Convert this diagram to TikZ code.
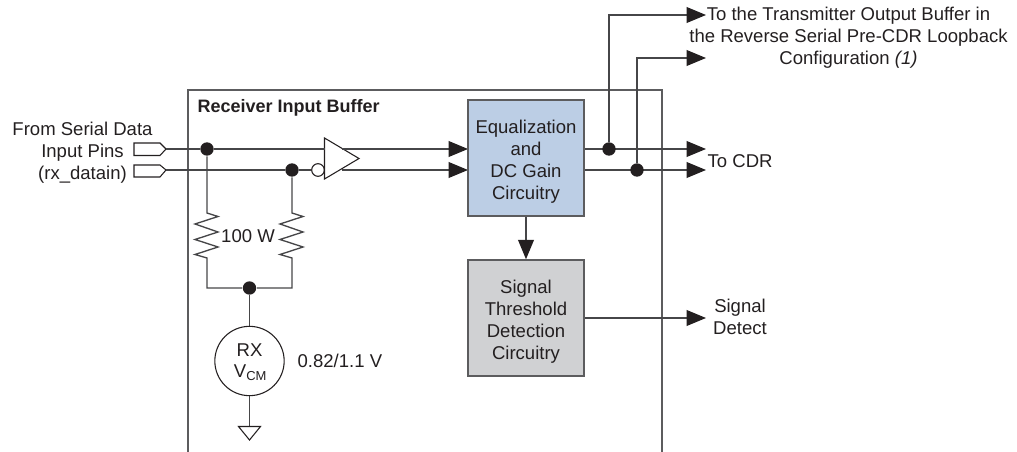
\documentclass[tikz,border=0pt]{standalone}
\usepackage{fontspec}
\setmainfont{Liberation Sans}
\usetikzlibrary{arrows.meta,backgrounds}
\definecolor{inkdark}{HTML}{231F20}
\definecolor{wiregray}{HTML}{464648}
\definecolor{framegray}{HTML}{5C5C5E}
\definecolor{eqblue}{HTML}{BCCEE5}
\definecolor{detgray}{HTML}{D0D1D3}
\newcommand{\blocktop}{\rule{0pt}{15.5pt}}

\begin{document}
\begin{tikzpicture}[
  x=0.75pt,y=-0.75pt,
  line width=1pt,
  wire/.style={draw=wiregray,line width=1pt},
  sig/.style={wire,-{Triangle[length=14.5pt,width=11.8pt,color=inkdark]}},
  dot/.style={circle,fill=inkdark,inner sep=0pt,minimum size=10pt},
  lbl/.style={text=inkdark,inner sep=0pt,align=center,font=\fontsize{13.9}{16.6}\selectfont},
  block/.style={lbl,draw=framegray,line width=1.1pt,minimum width=87pt,minimum height=87pt}
]
  \useasboundingbox (0,0) rectangle (1017,452);
  \node[lbl,anchor=west,font=\fontsize{13.5}{16.6}\selectfont\bfseries] (title) at (197,107.5) {Receiver Input Buffer};

  \node[block,fill=eqblue] (eq) at (526,158) {\blocktop Equalization\\and\\DC Gain\\Circuitry};
  \node[block,fill=detgray] (det) at (526,318) {\blocktop Signal\\Threshold\\Detection\\Circuitry};
  \node[circle,draw=inkdark,line width=0.8pt,minimum size=52pt,inner sep=0pt] (vcm) at (249.5,361) {};
  \node[lbl] (rx) at (249.5,350) {RX};
  \node[lbl] (vcmtxt) at (250.5,372.5) {V\textsubscript{CM}};
  \node[lbl,anchor=west] (volt) at (297,361) {0.82/1.1 V};
  \node[lbl] (from) at (82.5,152.5) {From Serial Data\\Input Pins\\(rx\_datain)};
  \node[lbl] (ohm) at (248,236) {100 W};
  \node[lbl] (xmit) at (848.5,38) {To the Transmitter Output Buffer in\\the Reverse Serial Pre-CDR Loopback\\Configuration \textit{(1)}};
  \node[lbl,anchor=west] (cdr) at (707,161) {To CDR};
  \node[lbl] (sdet) at (740,317) {Signal\\Detect};

  \node[dot] (d1) at (207,149) {};
  \node[dot] (d2) at (292,170) {};
  \node[dot] (d3) at (249.5,288) {};
  \node[dot] (d4) at (609,149) {};
  \node[dot] (d5) at (637,170) {};
  \node[circle,draw=inkdark,line width=0.8pt,minimum size=9.5pt,inner sep=0pt] (inv) at (318,170) {};

  \coordinate (pin1) at (166,149);
  \coordinate (pin2) at (166,170);
  \coordinate (bufa) at (324.5,149);
  \coordinate (bufb) at (342,149);
  \coordinate (bufc) at (342,170);
  \coordinate (eqa) at (468,149);
  \coordinate (eqb) at (468,170);
  \coordinate (oa) at (584,149);
  \coordinate (ob) at (584,170);
  \coordinate (cdra) at (706,149);
  \coordinate (cdrb) at (706,170);
  \coordinate (xa) at (706,15);
  \coordinate (xb) at (706,58);
  \coordinate (sout) at (706,318);
  \coordinate (r1a) at (207,213);
  \coordinate (r1b) at (207,258);
  \coordinate (r2a) at (292,213);
  \coordinate (r2b) at (292,258);
  \coordinate (g) at (249.5,426.5);

  \begin{scope}[on background layer]
    % outer frame, open at the bottom
    \draw[draw=framegray,line width=1.1pt] (188,452) -- (188,90) -- (662,90) -- (662,452);
    % pins
    \draw[draw=inkdark,line width=0.8pt] (134,143) -- (160,143) -- (pin1) -- (160,155.5) -- (134,155.5) -- cycle;
    \draw[draw=inkdark,line width=0.8pt] (134,165) -- (160,165) -- (pin2) -- (160,177) -- (134,177) -- cycle;
    % buffer
    \draw[draw=inkdark,line width=0.8pt] (324.5,138) -- (359,158.5) -- (324.5,179) -- cycle;
    \draw[wire] (pin1) -- (d1) -- (bufa);
    \draw[wire] (pin2) -- (d2) -- (inv);
    \draw[sig] (bufb) -- (eqa);
    \draw[sig] (bufc) -- (eqb);
    % resistors
    \draw[wire] (d1) -- (r1a) -- ++(11,3.5) -- ++(-23,7.5) -- ++(23,8) -- ++(-23,7.5) -- ++(23,7.5) -- ++(-23,7.5) -- (r1b) -- (207,288) -- (d3);
    \draw[wire] (d2) -- (r2a) -- ++(11,3.5) -- ++(-23,7.5) -- ++(23,8) -- ++(-23,7.5) -- ++(23,7.5) -- ++(-23,7.5) -- (r2b) -- (292,288) -- (d3);
    \draw[wire] (d3) -- (vcm);
    \draw[wire] (vcm) -- (g);
    \draw[draw=inkdark,line width=0.8pt] (g) ++(-11,0) -- ++(22,0) -- ++(-11,13.5) -- cycle;
    % outputs
    \draw[sig] (oa) -- (cdra);
    \draw[sig] (ob) -- (cdrb);
    \draw[sig] (d4) |- (xa);
    \draw[sig] (d5) |- (xb);
    \draw[sig] (eq) -- (det);
    \draw[sig] (det.east) -- (sout);
  \end{scope}
\end{tikzpicture}
\end{document}
